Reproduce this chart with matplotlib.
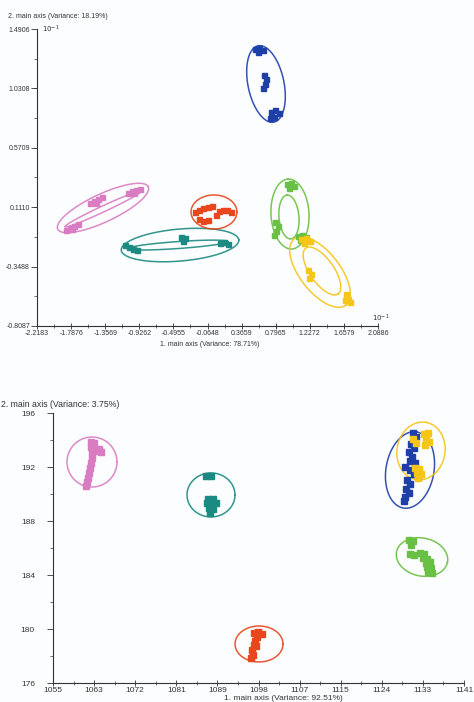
import numpy as np
import matplotlib
matplotlib.use("Agg")
import matplotlib.pyplot as plt
from matplotlib.ticker import AutoMinorLocator

plt.rcParams["font.family"] = ["Liberation Sans", "DejaVu Sans"]

W, H = 474, 702

# ---- upper plot: scores (x 10^-1) ----
TOP_XTICKS = [-2.2183, -1.7876, -1.3569, -0.9262, -0.4955, -0.0648,
              0.3659, 0.7965, 1.2272, 1.6579, 2.0886]
TOP_YTICKS = [-0.8087, -0.3488, 0.1110, 0.5709, 1.0308, 1.4906]

pink_top_x = [-1.852, -1.801, -1.751, -1.700, -1.776,
              -1.549, -1.498, -1.448, -1.397, -1.473,
              -1.069, -1.018, -0.968, -0.917, -0.993]
pink_top_y = [-0.065, -0.050, -0.034, -0.019, -0.057,
              0.144, 0.159, 0.175, 0.190, 0.144,
              0.221, 0.236, 0.244, 0.252, 0.221]

teal_top_x = [-1.107, -1.056, -1.006, -0.955, -0.400, -0.349, -0.374,
              0.093, 0.143, 0.194]
teal_top_y = [-0.182, -0.197, -0.213, -0.221, -0.120, -0.128, -0.150,
              -0.166, -0.158, -0.174]

orange_top_x = [-0.223, -0.172, -0.122, -0.059, -0.008,
                -0.172, -0.122, -0.059, 0.080, 0.131, 0.181, 0.232, 0.042]
orange_top_y = [0.074, 0.089, 0.105, 0.113, 0.120,
                0.020, 0.004, 0.012, 0.082, 0.089, 0.089, 0.074, 0.051]

blue_top_x = [0.535, 0.585, 0.636, 0.573, 0.649, 0.674, 0.661, 0.636,
              0.737, 0.787, 0.838, 0.775, 0.724]
blue_top_y = [1.336, 1.344, 1.328, 1.313, 1.134, 1.104, 1.065, 1.034,
              0.848, 0.864, 0.840, 0.809, 0.801]

green_top_x = [0.939, 0.990, 1.028, 0.964, 0.787, 0.825, 0.800, 0.775,
               1.078, 1.129, 1.179, 1.103]
green_top_y = [0.291, 0.298, 0.275, 0.260, -0.004, -0.034, -0.073, -0.104,
               -0.112, -0.104, -0.120, -0.143]

yellow_top_x = [1.116, 1.179, 1.229, 1.154, 1.204, 1.242, 1.217,
                1.684, 1.710, 1.735, 1.672]
yellow_top_y = [-0.135, -0.128, -0.150, -0.166, -0.375, -0.406, -0.437,
                -0.561, -0.600, -0.623, -0.607]

# confidence ellipses: centre x, centre y, semi-axis u (x, y), semi-axis v (x, y)
pink_top_ell = [(-1.385, 0.105, 0.572, 0.164, -0.0748, 0.0982),
                (-1.385, 0.097, 0.481, 0.1375, -0.016, 0.021)]
teal_top_ell = [(-0.412, -0.182, 0.742, 0.0397, -0.0176, 0.1234),
                (-0.437, -0.182, 0.630, 0.027, -0.003, 0.027)]
orange_top_ell = [(0.017, 0.074, 0.290, 0.0, 0.0, 0.1316)]
blue_top_ell = [(0.674, 1.065, -0.100, 0.2956, -0.2226, -0.0283)]
green_top_ell = [(0.977, 0.058, -0.023, 0.2707, -0.2397, -0.0076),
                 (0.964, 0.035, -0.024, 0.1696, -0.1258, -0.0067)]
yellow_top_ell = [(1.356, -0.391, 0.3268, -0.2562, 0.1990, 0.0954),
                  (1.381, -0.383, 0.203, -0.1775, 0.1241, 0.0533)]

# ---- lower plot ----
BOT_XLABELS = ["1055", "1063", "1072", "1081", "1089", "1098",
               "1107", "1115", "1124", "1133", "1141"]
BOT_YTICKS = [176, 180, 184, 188, 192, 196]

pink_bot_x = [1062.95, 1063.58, 1062.95, 1063.58, 1064.63, 1065.04, 1064.00,
              1063.16, 1063.16, 1062.95, 1062.74, 1062.53, 1062.32, 1062.11,
              1061.91]
pink_bot_y = [193.85, 193.78, 193.48, 193.41, 193.33, 193.11, 193.19,
              193.04, 192.67, 192.30, 191.93, 191.56, 191.19, 190.89, 190.59]

teal_bot_x = [1087.01, 1088.06, 1087.43, 1088.48, 1087.22, 1088.27, 1089.11,
              1087.64, 1088.48, 1087.85]
teal_bot_y = [191.33, 191.33, 189.63, 189.63, 189.33, 189.26, 189.33,
              188.96, 188.89, 188.59]

orange_bot_x = [1097.06, 1097.90, 1098.73, 1097.69, 1097.27, 1097.06,
                1097.48, 1096.64, 1096.85, 1096.43]
orange_bot_y = [179.70, 179.78, 179.63, 179.41, 179.11, 178.81, 178.74,
                178.44, 178.07, 177.85]

blue_bot_x = [1130.33, 1130.96, 1129.91, 1130.54, 1129.49, 1130.12, 1129.70,
              1130.75, 1128.66, 1129.70, 1130.54, 1131.38, 1129.07, 1129.70,
              1128.86, 1129.49, 1128.66, 1128.45]
blue_bot_y = [194.52, 194.22, 193.70, 193.41, 193.11, 192.74, 192.44, 192.30,
              192.00, 191.78, 191.48, 191.26, 191.04, 190.74, 190.37, 190.07,
              189.78, 189.48]

yellow_bot_x = [1130.33, 1130.96, 1132.63, 1133.47, 1133.05, 1133.68, 1132.84,
                1130.75, 1131.59, 1131.17, 1132.00, 1131.38]
yellow_bot_y = [194.07, 193.78, 194.44, 194.52, 194.15, 193.85, 193.63,
                191.93, 191.85, 191.56, 191.48, 191.19]

green_bot_x = [1129.49, 1130.33, 1129.91, 1129.70, 1130.54, 1131.79, 1132.63,
               1132.42, 1133.26, 1133.05, 1133.89, 1133.26, 1134.10, 1133.47,
               1134.31]
green_bot_y = [186.59, 186.52, 186.22, 185.56, 185.48, 185.63, 185.56,
               185.26, 185.19, 184.89, 184.96, 184.59, 184.52, 184.22, 184.15]

pink_bot_ell = [(1063.16, 192.37, 5.23, 0.0, 0.0, 1.852)]
teal_bot_ell = [(1088.06, 189.93, 5.02, 0.0, 0.0, 1.63)]
orange_bot_ell = [(1098.11, 178.89, 5.02, 0.0, 0.0, 1.333)]
blue_bot_ell = [(1129.70, 191.78, 1.405, 2.816, -4.947, 0.309)]
yellow_bot_ell = [(1132.00, 193.19, 1.056, 2.116, -4.947, 0.309)]
green_bot_ell = [(1132.21, 185.33, 5.321, -0.401, 0.827, 1.376)]

PINK, TEAL, ORANGE = "#d97cc2", "#1b8a82", "#e8461c"
BLUE, YELLOW, GREEN = "#1f3fa8", "#f5c518", "#6abf45"
INK = "#333333"


def draw_group(ax, xs, ys, ells, color, ms):
    t = np.linspace(0, 2 * np.pi, 240)
    for cx, cy, ux, uy, vx, vy in ells:
        ax.plot(cx + ux * np.cos(t) + vx * np.sin(t),
                cy + uy * np.cos(t) + vy * np.sin(t),
                color=color, lw=1.1, alpha=0.9, zorder=2)
    ax.plot(xs, ys, ls="none", marker="s", ms=ms, color=color,
            mec=color, zorder=3)


def style_axes(ax, size, ypad):
    for side in ("top", "right"):
        ax.spines[side].set_visible(False)
    for side in ("left", "bottom"):
        ax.spines[side].set_linewidth(0.8)
        ax.spines[side].set_color(INK)
    ax.xaxis.set_minor_locator(AutoMinorLocator(2))
    ax.yaxis.set_minor_locator(AutoMinorLocator(2))
    ax.tick_params(axis="x", which="major", direction="inout", length=5,
                   width=0.6, labelsize=size, colors=INK, pad=0.5)
    ax.tick_params(axis="x", which="minor", direction="inout", length=3,
                   width=0.5, colors=INK)
    ax.tick_params(axis="y", which="major", direction="out", length=4,
                   width=0.6, labelsize=size, colors=INK, pad=ypad)
    ax.tick_params(axis="y", which="minor", direction="out", length=2,
                   width=0.5, colors=INK)
    ax.set_facecolor("none")


fig = plt.figure(figsize=(W / 100, H / 100), dpi=100)
fig.patch.set_facecolor("#fcfdff")

# upper plot
ax1 = fig.add_axes([37 / W, 1 - 326 / H, 341 / W, 297 / H])
ax1.set_xlim(TOP_XTICKS[0], TOP_XTICKS[-1])
ax1.set_ylim(TOP_YTICKS[0], TOP_YTICKS[-1])
ax1.set_xticks(TOP_XTICKS)
ax1.set_xticklabels([f"{v:.4f}" for v in TOP_XTICKS])
ax1.set_yticks(TOP_YTICKS)
ax1.set_yticklabels([f"{v:.4f}" for v in TOP_YTICKS])
style_axes(ax1, 5, 1)

draw_group(ax1, pink_top_x, pink_top_y, pink_top_ell, PINK, 3.6)
draw_group(ax1, teal_top_x, teal_top_y, teal_top_ell, TEAL, 3.6)
draw_group(ax1, orange_top_x, orange_top_y, orange_top_ell, ORANGE, 3.6)
draw_group(ax1, blue_top_x, blue_top_y, blue_top_ell, BLUE, 3.6)
draw_group(ax1, green_top_x, green_top_y, green_top_ell, GREEN, 3.6)
draw_group(ax1, yellow_top_x, yellow_top_y, yellow_top_ell, YELLOW, 3.6)

fig.text(8 / W, 1 - 17 / H, "2. main axis (Variance: 18.19%)",
         fontsize=5, color=INK, va="center")
fig.text(42 / W, 1 - 29 / H, r"$10^{-1}$", fontsize=5, color=INK,
         va="center")
fig.text(372 / W, 1 - 318 / H, r"$10^{-1}$", fontsize=5, color=INK,
         va="center")
fig.text(210 / W, 1 - 345 / H, "1. main axis (Variance: 78.71%)",
         fontsize=5, color=INK, ha="center", va="center")

# lower plot
ax2 = fig.add_axes([53 / W, 1 - 683 / H, 411 / W, 270 / H])
ax2.set_xlim(1055, 1141)
ax2.set_ylim(BOT_YTICKS[0], BOT_YTICKS[-1])
ax2.set_xticks(np.linspace(1055, 1141, len(BOT_XLABELS)))
ax2.set_xticklabels(BOT_XLABELS)
ax2.set_yticks(BOT_YTICKS)
style_axes(ax2, 6, 9)

draw_group(ax2, pink_bot_x, pink_bot_y, pink_bot_ell, PINK, 4.8)
draw_group(ax2, teal_bot_x, teal_bot_y, teal_bot_ell, TEAL, 4.8)
draw_group(ax2, orange_bot_x, orange_bot_y, orange_bot_ell, ORANGE, 4.8)
draw_group(ax2, blue_bot_x, blue_bot_y, blue_bot_ell, BLUE, 4.8)
draw_group(ax2, yellow_bot_x, yellow_bot_y, yellow_bot_ell, YELLOW, 4.8)
draw_group(ax2, green_bot_x, green_bot_y, green_bot_ell, GREEN, 4.8)

fig.text(1 / W, 1 - 405 / H, "2. main axis (Variance: 3.75%)",
         fontsize=6.3, color=INK, va="center")
fig.text(283 / W, 1 - 701.5 / H, "1. main axis (Variance: 92.51%)",
         fontsize=6, color=INK, ha="center", va="bottom")

fig.savefig("out.png", dpi=100, facecolor=fig.get_facecolor())
